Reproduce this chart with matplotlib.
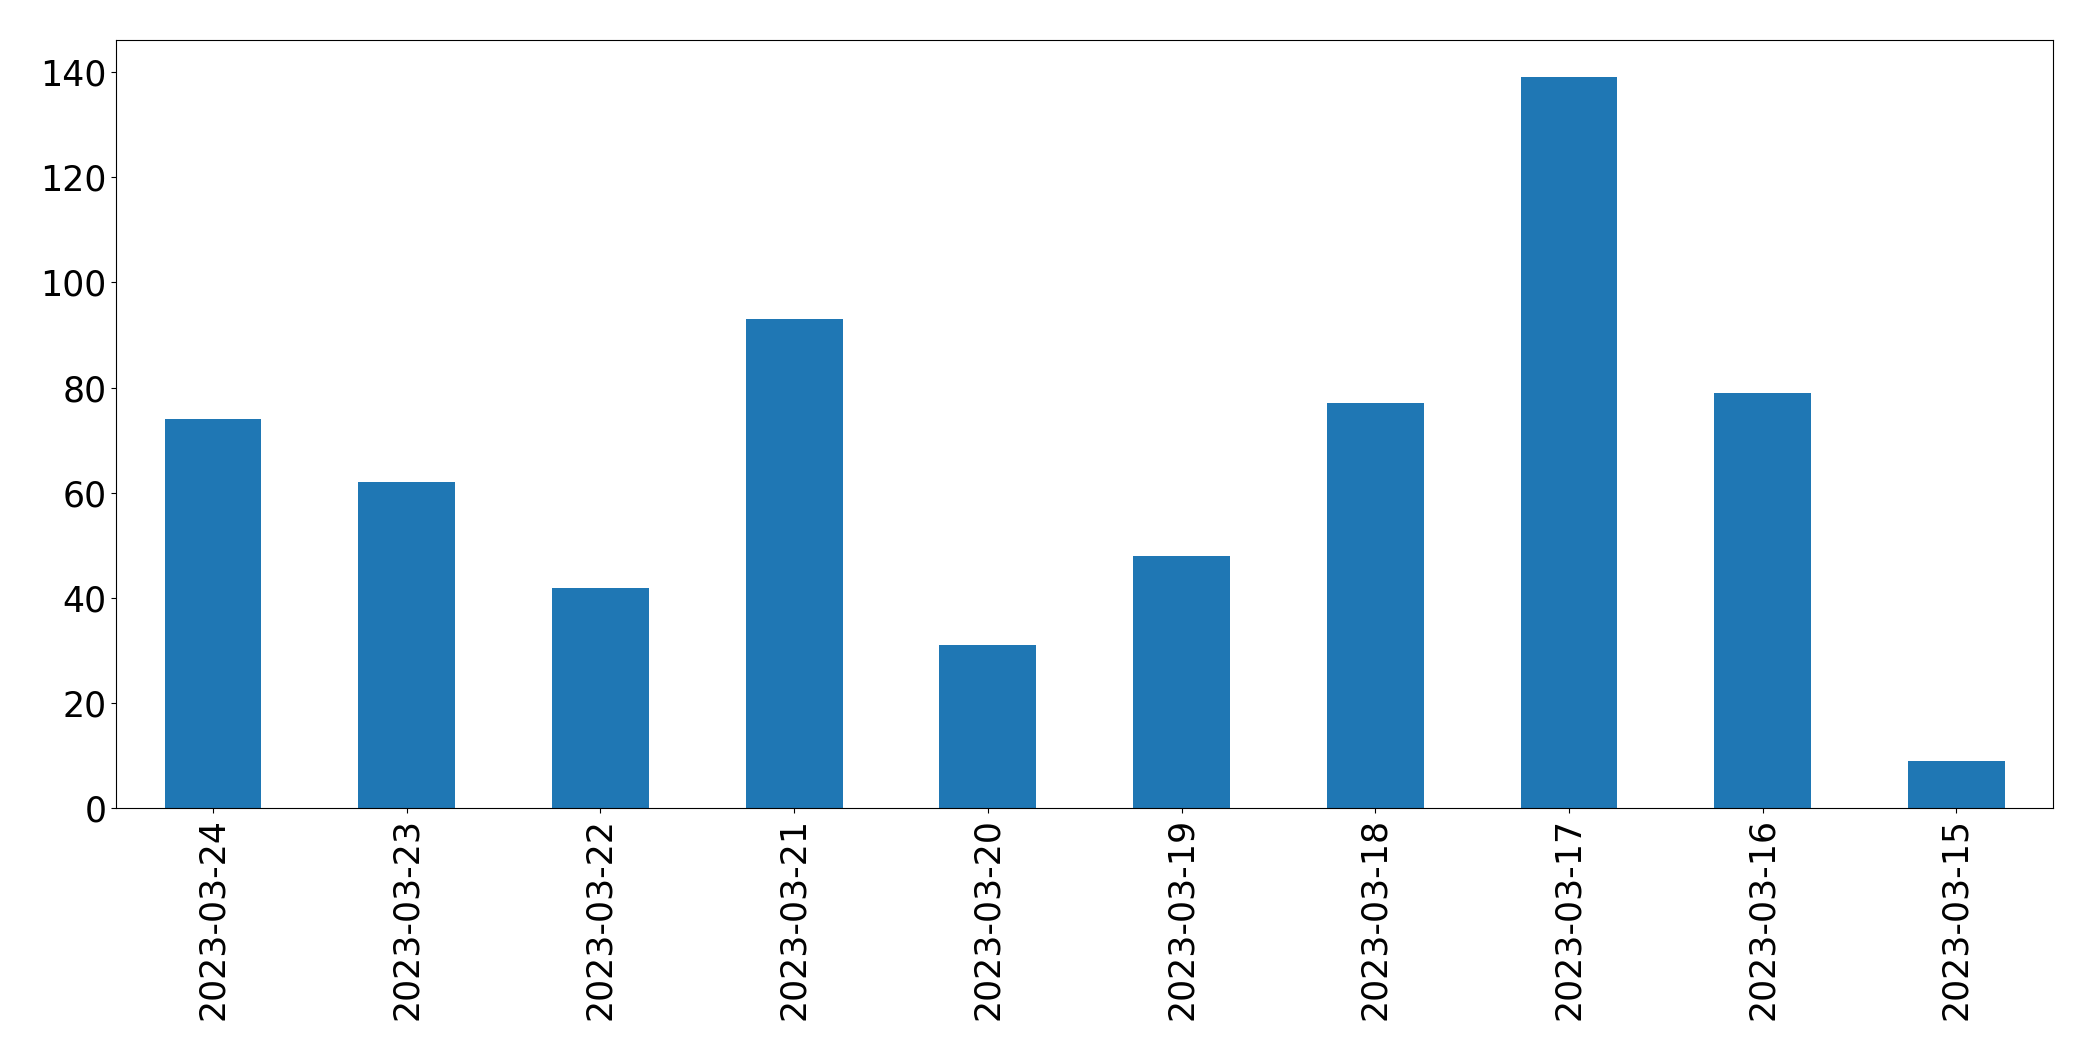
import matplotlib
matplotlib.use('Agg')
import matplotlib.pyplot as plt
import numpy as np

# dates and daily counts
dates = ["2023-03-24", "2023-03-23", "2023-03-22", "2023-03-21", "2023-03-20",
         "2023-03-19", "2023-03-18", "2023-03-17", "2023-03-16", "2023-03-15"]
counts = [74, 62, 42, 93, 31, 48, 77, 139, 79, 9]

fig = plt.figure(figsize=(20.93, 10.61), dpi=100)
ax = fig.add_axes([0.0555, 0.238, 0.9255, 0.724])

x = np.arange(len(dates))
ax.bar(x, counts, width=0.5, color='#1f77b4')
ax.set_xlim(-0.5, len(dates) - 0.5)
ax.set_ylim(0, 146)
ax.set_xticks(x)
ax.set_xticklabels(dates, rotation=90)
ax.tick_params(axis='both', labelsize=25)

fig.savefig("out.png", dpi=100)
